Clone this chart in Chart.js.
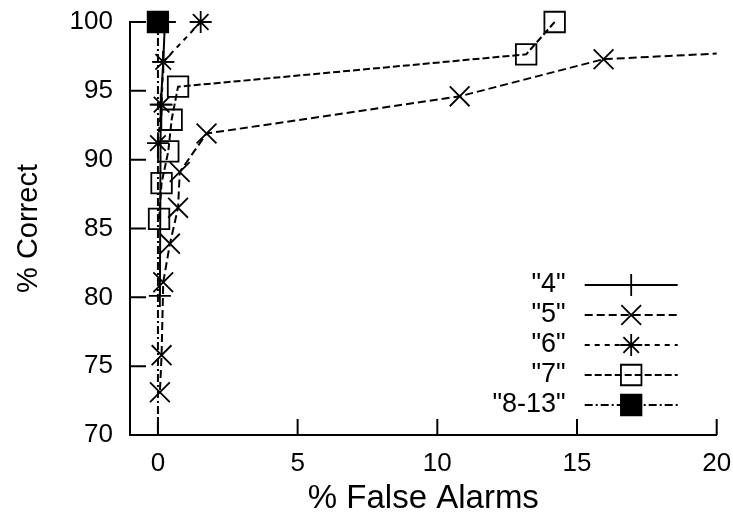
<!DOCTYPE html>
<html>
<head>
<meta charset="utf-8">
<script src="https://cdn.jsdelivr.net/npm/chart.js@4.4.0/dist/chart.umd.min.js"></script>
<style>
  body { margin: 0; background: #fff; }
</style>
</head>
<body>
<canvas id="roc" width="733" height="525"></canvas>
<script>
// names as printed in the key
const seriesNames = ['"4"', '"5"', '"6"', '"7"', '"8-13"'];

// % false alarms (x) and % correct (y) for each series
const falseAlarms4 = [0.25, 0.19, 0.1, 0.07];
const correct4 = [100, 97.1, 94.0, 80.1];
const falseAlarms5 = [24, 15.95, 10.8, 1.74, 0.78, 0.72, 0.43, 0.19, 0.13, 0.07];
const correct5 = [98.1, 97.3, 94.6, 91.9, 89.1, 86.5, 83.9, 81.1, 75.8, 73.1];
const falseAlarms6 = [1.53, 0.19, 0.13, 0];
const correct6 = [100, 97.1, 94.0, 91.2];
const falseAlarms7 = [14.2, 13.18, 0.72, 0.49, 0.37, 0.13, 0.04];
const correct7 = [100, 97.65, 95.3, 92.9, 90.6, 88.3, 85.7];
const falseAlarms8 = [0, 0];
const correct8 = [100, 60];

const xTicks = [0, 5, 10, 15, 20];
const yTicks = [70, 75, 80, 85, 90, 95, 100];

const pts = (xs, ys) => xs.map((x, i) => ({ x: x, y: ys[i] }));

const common = {
  borderColor: '#000',
  borderWidth: 2,
  pointBorderColor: '#000',
  pointBackgroundColor: 'rgba(0,0,0,0)',
  pointBorderWidth: 1.8,
  pointHoverRadius: 0,
  tension: 0,
  clip: { left: 0, top: 20, right: 0, bottom: 0 },
};

const datasets = [
  { ...common, label: seriesNames[0], data: pts(falseAlarms4, correct4), borderDash: [], pointStyle: 'cross', pointRadius: 11, order: 5 },
  { ...common, label: seriesNames[1], data: pts(falseAlarms5, correct5), borderDash: [8, 4], pointStyle: 'crossRot', pointRadius: 14, order: 4 },
  { ...common, label: seriesNames[2], data: pts(falseAlarms6, correct6), borderDash: [5, 5], pointStyle: 'star', pointRadius: 11, order: 3 },
  { ...common, label: seriesNames[3], data: pts(falseAlarms7, correct7), borderDash: [7, 3], pointStyle: 'rect', pointRadius: 14.5, order: 2 },
  { ...common, label: seriesNames[4], data: pts(falseAlarms8, correct8), borderDash: [8, 3, 2, 3], pointStyle: 'rect', pointRadius: 14.5, pointBackgroundColor: '#000', order: 1 },
];

// short tick marks pointing into the plot, like gnuplot
const innerTicks = {
  id: 'innerTicks',
  beforeDatasetsDraw(chart) {
    const { ctx, chartArea, scales } = chart;
    ctx.save();
    ctx.strokeStyle = '#000';
    ctx.lineWidth = 2;
    ctx.beginPath();
    scales.x.ticks.forEach(t => {
      const px = scales.x.getPixelForValue(t.value);
      ctx.moveTo(px, chartArea.bottom);
      ctx.lineTo(px, chartArea.bottom - 16);
    });
    scales.y.ticks.forEach(t => {
      const py = scales.y.getPixelForValue(t.value);
      ctx.moveTo(chartArea.left, py);
      ctx.lineTo(chartArea.left + 16, py);
    });
    ctx.stroke();
    ctx.restore();
  }
};

// key in the lower right: label, line sample, marker
const key = {
  id: 'key',
  afterDatasetsDraw(chart) {
    const { ctx, chartArea } = chart;
    const textRight = chartArea.right - 151;
    const lineL = chartArea.right - 132;
    const lineR = chartArea.right - 39;
    const mid = (lineL + lineR) / 2;
    ctx.save();
    ctx.font = '27px "Liberation Sans"';
    ctx.textAlign = 'right';
    ctx.textBaseline = 'middle';
    chart.data.datasets.forEach((ds, i) => {
      const y = chartArea.top + 263 + i * 30;
      ctx.fillStyle = '#000';
      ctx.fillText(ds.label, textRight, y);
      ctx.strokeStyle = '#000';
      ctx.lineWidth = ds.borderWidth;
      ctx.setLineDash(ds.borderDash);
      ctx.beginPath();
      ctx.moveTo(lineL, y);
      ctx.lineTo(lineR, y);
      ctx.stroke();
      ctx.setLineDash([]);
      ctx.fillStyle = ds.pointBackgroundColor;
      ctx.lineWidth = ds.pointBorderWidth;
      Chart.helpers.drawPoint(ctx, { pointStyle: ds.pointStyle, radius: ds.pointRadius, rotation: 0, borderWidth: ds.pointBorderWidth }, mid, y);
    });
    ctx.restore();
  }
};

// let the layout padding alone decide where the plot box sits
const noLabelPad = s => { s.paddingTop = 0; s.paddingBottom = 0; s.paddingLeft = 0; s.paddingRight = 0; };

new Chart(document.getElementById('roc'), {
  type: 'line',
  data: { datasets: datasets },
  plugins: [innerTicks, key],
  options: {
    responsive: false,
    animation: false,
    layout: { padding: { top: 22, right: 14, left: 0, bottom: 0 } },
    plugins: { legend: { display: false }, tooltip: { enabled: false } },
    scales: {
      x: {
        type: 'linear',
        min: -1,
        max: 20,
        afterBuildTicks: s => { s.ticks = xTicks.map(v => ({ value: v })); },
        afterFit: s => { s.height = 90; noLabelPad(s); },
        grid: { display: false, drawTicks: false },
        border: { display: true, color: '#000', width: 2 },
        ticks: { color: '#000', padding: 13, font: { family: 'Liberation Sans', size: 26 }, maxRotation: 0 },
        title: { display: true, text: '% False Alarms', color: '#000', font: { family: 'Liberation Sans', size: 33 }, padding: { bottom: 6 } }
      },
      y: {
        min: 70,
        max: 100,
        afterBuildTicks: s => { s.ticks = yTicks.map(v => ({ value: v })); },
        afterFit: s => { s.width = 130; noLabelPad(s); },
        grid: { display: false, drawTicks: false },
        border: { display: true, color: '#000', width: 2 },
        ticks: { color: '#000', padding: 17, font: { family: 'Liberation Sans', size: 26 } },
        title: { display: true, text: '% Correct', color: '#000', font: { family: 'Liberation Sans', size: 29 }, padding: { top: 12 } }
      }
    }
  }
});
</script>
</body>
</html>
